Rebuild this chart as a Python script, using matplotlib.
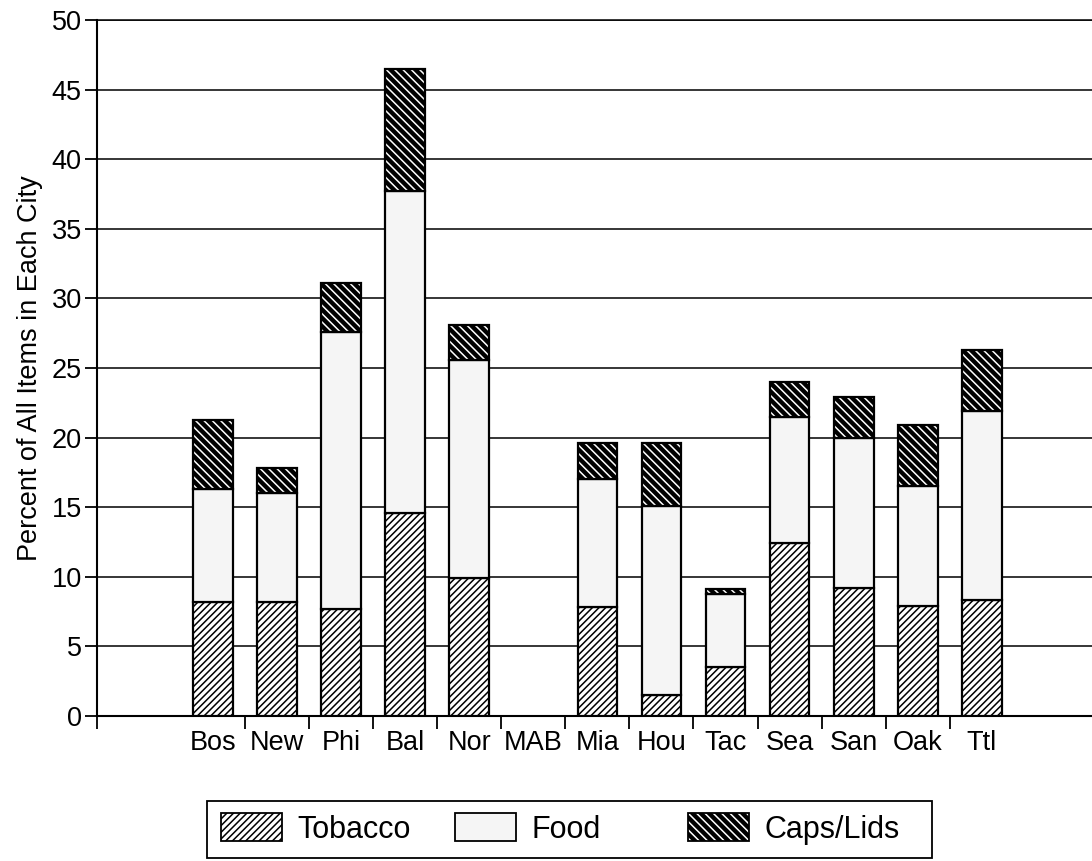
import matplotlib
matplotlib.use("Agg")
import matplotlib.pyplot as plt
from matplotlib.patches import Patch, Rectangle
from matplotlib.legend_handler import HandlerTuple
import numpy as np

cities = ["Bos", "New", "Phi", "Bal", "Nor", "MAB", "Mia", "Hou", "Tac", "Sea", "San", "Oak", "Ttl"]
tobacco = [8.2, 8.2, 7.7, 14.6, 9.9, 0.0, 7.8, 1.5, 3.5, 12.4, 9.2, 7.9, 8.3]
food = [8.1, 7.8, 19.9, 23.1, 15.7, 0.0, 9.2, 13.6, 5.3, 9.1, 10.8, 8.6, 13.6]
caps = [5.0, 1.8, 3.5, 8.8, 2.5, 0.0, 2.6, 4.5, 0.3, 2.5, 2.9, 4.4, 4.4]
yticks = [0, 5, 10, 15, 20, 25, 30, 35, 40, 45, 50]

plt.rcParams['font.family'] = ['Liberation Sans', 'DejaVu Sans']
plt.rcParams['hatch.linewidth'] = 1.1

W, H = 1092, 861
fig = plt.figure(figsize=(W / 100, H / 100), dpi=100)
ax = fig.add_axes([97 / W, 1 - 716 / H, 1 - 97 / W, (716 - 20) / H])

x = np.arange(len(cities))
bw = 0.62
tob = np.array(tobacco)
fd = np.array(food)
cp = np.array(caps)
m = (tob + fd + cp) > 0
xm = x[m]

FOOD_C = '#f5f5f5'
TOB_H = '/////'
CAP_H = '\\' * 4

ax.bar(xm, tob[m], bw, facecolor='white', edgecolor='black', hatch=TOB_H, linewidth=1.6, zorder=3)
ax.bar(xm, fd[m], bw, bottom=tob[m], facecolor=FOOD_C, edgecolor='black', linewidth=1.6, zorder=3)
ax.bar(xm, cp[m], bw, bottom=(tob + fd)[m], facecolor='black', edgecolor='white', hatch=CAP_H,
       linewidth=0, zorder=3)
ax.bar(xm, cp[m], bw, bottom=(tob + fd)[m], fill=False, edgecolor='black', linewidth=1.6, zorder=4)

ax.set_xlim(-1.81, 13.72)
ax.set_ylim(0, 50)
ax.set_yticks(yticks)
ax.set_yticklabels([str(v) for v in yticks], fontsize=19.5)
ax.set_xticks(x)
ax.set_xticklabels(cities, fontsize=19.5)
ax.set_xticks(list(np.arange(len(cities) - 1) + 0.5) + [-1.81], minor=True)
ax.tick_params(axis='x', which='major', length=0, pad=10)
ax.tick_params(axis='x', which='minor', length=9, width=1.3, direction='out')
ax.tick_params(axis='y', length=9, width=1.3, pad=2, direction='out')
ax.yaxis.grid(True, color='black', linewidth=1.1)
ax.set_axisbelow(True)
ax.spines['right'].set_visible(False)
ax.spines['top'].set_linewidth(1.1)
ax.spines['left'].set_linewidth(1.5)
ax.spines['bottom'].set_linewidth(1.5)
ax.set_ylabel("Percent of All Items in Each City", fontsize=19.5, labelpad=6)

# legend
fig.add_artist(Rectangle((207 / W, 1 - 858 / H), (932 - 207) / W, (858 - 801) / H,
                         transform=fig.transFigure, fill=False, edgecolor='black', linewidth=1.3))
h_tob = Patch(facecolor='white', edgecolor='black', hatch=TOB_H, linewidth=1.3)
h_food = Patch(facecolor=FOOD_C, edgecolor='black', linewidth=1.3)
h_caps = (Patch(facecolor='black', edgecolor='white', hatch=CAP_H, linewidth=0),
          Patch(fill=False, edgecolor='black', linewidth=1.3))
yc = 1 - 829 / H
for hdl, lab, xs in [(h_tob, "Tobacco", 221), (h_food, "Food", 455), (h_caps, "Caps/Lids", 688)]:
    fig.legend(handles=[hdl], labels=[lab], loc='center left', bbox_to_anchor=(xs / W, yc),
               frameon=False, borderpad=0, borderaxespad=0, fontsize=22,
               handlelength=2.0, handleheight=1.0, handletextpad=0.5,
               handler_map={tuple: HandlerTuple(ndivide=1)})

fig.savefig("out.png", dpi=100)
